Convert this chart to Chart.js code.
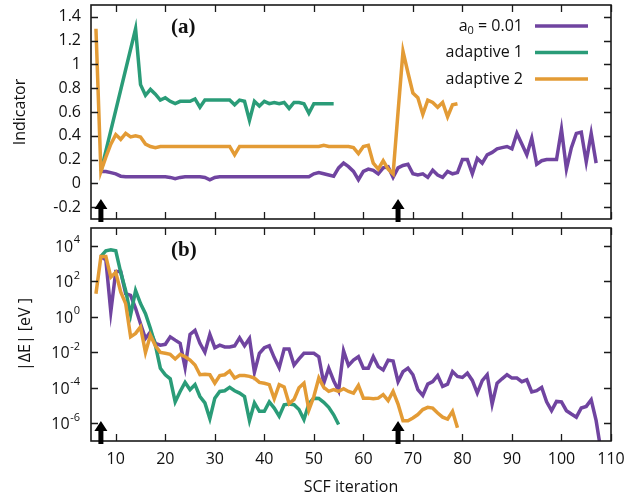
<!DOCTYPE html>
<html>
<head>
<meta charset="utf-8">
<script src="https://cdn.jsdelivr.net/npm/chart.js@4.4.1/dist/chart.umd.min.js"></script>
<style>
  html, body { margin: 0; padding: 0; background: #fff; overflow: hidden; width: 625px; height: 493px; }
  canvas { position: absolute; left: 0; }
  #chartA { top: 0; }
  #chartB { top: 225px; }
</style>
</head>
<body>
<canvas id="chartA" width="625" height="225"></canvas>
<canvas id="chartB" width="625" height="275"></canvas>
<script>
// SCF iterations (shared x categories)
const iterations = [6,7,8,9,10,11,12,13,14,15,16,17,18,19,20,21,22,23,24,25,26,27,28,29,30,
  31,32,33,34,35,36,37,38,39,40,41,42,43,44,45,46,47,48,49,50,51,52,53,54,55,56,57,58,59,60,
  61,62,63,64,65,66,67,68,69,70,71,72,73,74,75,76,77,78,79,80,81,82,83,84,85,86,87,88,89,90,
  91,92,93,94,95,96,97,98,99,100,101,102,103,104,105,106,107,108];

const seriesNames = ["a0 = 0.01", "adaptive 1", "adaptive 2"];
const colors = ["#7044a0", "#2a9c78", "#e39b35"];

// panel (a): indicator
const indA0 = [null, 0.10, 0.10, 0.09, 0.08, 0.06, 0.055, 0.055, 0.055, 0.055, 0.055, 0.055, 0.055, 0.055, 0.055,
  0.05, 0.04, 0.05, 0.055, 0.055, 0.055, 0.055, 0.05, 0.03, 0.05, 0.055, 0.055, 0.055, 0.055, 0.055,
  0.055, 0.055, 0.055, 0.055, 0.055, 0.055, 0.055, 0.055, 0.055, 0.055, 0.055, 0.055, 0.055, 0.055,
  0.08, 0.09, 0.08, 0.07, 0.06, 0.13, 0.17, 0.14, 0.10, 0.03, 0.10, 0.12, 0.11, 0.08, 0.13, 0.14,
  0.05, 0.13, 0.15, 0.16, 0.08, 0.07, 0.08, 0.05, 0.11, 0.07, 0.05, 0.10, 0.08, 0.09, 0.20, 0.20,
  0.08, 0.21, 0.17, 0.24, 0.26, 0.29, 0.30, 0.31, 0.29, 0.42, 0.33, 0.24, 0.38, 0.16, 0.19, 0.20,
  0.20, 0.20, 0.455, 0.12, 0.30, 0.42, 0.43, 0.18, 0.42, 0.17];
const indAdapt1 = [null, 0.10, null, null, null, null, null, null, 1.30,
  0.83, 0.74, 0.79, 0.75, 0.70, 0.72, 0.69, 0.67, 0.69, 0.69,
  0.69, 0.71, 0.64, 0.70, 0.70, 0.70, 0.70, 0.70, 0.70, 0.66,
  0.70, 0.69, 0.53, 0.69, 0.65, 0.69, 0.67, 0.68, 0.67, 0.68,
  0.63, 0.68, 0.68, 0.67, 0.59, 0.67, 0.67, 0.67, 0.67, 0.67];
const indAdapt2 = [1.30, 0.10, 0.22, 0.33, 0.41, 0.37, 0.42, 0.39, 0.40, 0.39, 0.33, 0.31, 0.30,
  0.31, 0.31, 0.31, 0.31, 0.31, 0.31, 0.31, 0.31, 0.31, 0.31, 0.31, 0.31, 0.31, 0.31, 0.31,
  0.24, 0.31, 0.31, 0.31, 0.31, 0.31, 0.31, 0.31, 0.31, 0.31, 0.31, 0.31, 0.31, 0.31, 0.31, 0.31, 0.31, 0.31,
  0.32, 0.31, 0.31, 0.31, 0.31, 0.31, 0.30, 0.25, 0.31, 0.32, 0.17, 0.12, 0.19, 0.12, 0.08,
  0.60, 1.11, 0.93, 0.76, 0.72, 0.58, 0.70, 0.68, 0.64, 0.68, 0.56, 0.66, 0.67];

// panel (b): |dE| in eV
const dEA0 = [null, 2.4e3, 1.6e3, 1.9, 3.5e2, 3.5e2, 20, 16, 3, 0.4, 6.0e-2, 0.14, 3.2e-2, 2.5e-2, 2.8e-2,
  7.4e-2, 4.8e-2, 3.2e-2, 1.4e-3, 0.10, 0.17, 3.2e-2, 1.0e-2, 0.10, 1.8e-2, 2.5e-2, 2.0e-2, 2.0e-2,
  2.3e-2, 6.5e-2, 2.3e-2, 6.0e-2, 7.4e-4, 8.7e-3, 1.8e-2, 2.3e-2, 5.0e-3, 1.35e-3, 1.5e-2, 1.5e-2,
  1.9e-3, 4.2e-3, 8.7e-3, 8.7e-3, 8.7e-3, 5.6e-3, 1.8e-4, 1.26e-3, 2.5e-4, 6.8e-5, 1.2e-2, 1.8e-3,
  3.6e-3, 5.6e-3, 1.26e-3, 1.26e-3, 5.6e-3, 1.55e-3, 1.0e-3, 3.6e-3, 3.2e-3, 2.2e-4, 8.1e-4, 1.26e-3,
  5.4e-4, 7.8e-5, 3.7e-5, 1.6e-4, 2.2e-4, 4.9e-4, 1.2e-4, 1.6e-4, 8.1e-4, 4.3e-4, 3.8e-4, 6.6e-4,
  2.6e-4, 5.0e-5, 2.5e-4, 5.4e-4, 1.2e-5, 1.8e-4, 3.2e-4, 5.4e-4, 3.5e-4, 3.5e-4, 2.2e-4, 2.8e-4,
  5.8e-5, 6.8e-5, 1.05e-4, 1.6e-5, 5.1e-6, 1.7e-5, 1.6e-5, 5.1e-6, 3.3e-6, 2.2e-6, 7.2e-6, 8.9e-6,
  2.1e-5, 1.4e-6, 2.5e-8];
const dEAdapt1 = [null, 2.5e3, 5.2e3, 6.0e3, 5.2e3, 3.2e2, 30, 1.3, 30, 5.5, 1.5, 0.22, 2.5e-2,
  1.26e-3, 5.4e-4, 3.2e-4, 1.6e-5, 6.2e-5, 2.0e-4, 7.8e-5, 1.5e-4, 3.2e-5, 1.4e-5, 1.8e-6, 2.6e-5,
  6.2e-5, 6.8e-5, 1.05e-4, 6.8e-5, 5.0e-5, 3.2e-5, 1.4e-6, 1.4e-5, 4.7e-6, 4.7e-6, 1.6e-5, 7.2e-6,
  2.5e-6, 1.1e-5, 1.2e-5, 1.1e-5, 5.9e-6, 1.6e-6, 1.26e-5, 2.6e-5, 2.5e-5, 1.5e-5, 7.9e-6, 3.0e-6, 8.5e-7];
const dEAdapt2 = [20, 2.5e3, 2.5e3, 1.7e2, 3.2e2, 25, 5.5, 7.4e-2, 0.115, 0.27, 9.8e-3, 9.1e-2, 2.3e-2,
  9.8e-3, 8.7e-3, 7.6e-3, 4.2e-3, 7.6e-3, 5.6e-3, 3.6e-3, 1.9e-3, 5.4e-4, 5.8e-4, 5.4e-4, 1.8e-4,
  4.9e-4, 5.4e-4, 8.9e-4, 3.5e-4, 4.9e-4, 4.9e-4, 4.4e-4, 3.5e-4, 2.0e-4, 1.8e-4, 1.5e-4, 2.4e-5,
  1.5e-4, 1.1e-4, 1.26e-5, 2.2e-5, 1.0e-4, 1.8e-4, 5.6e-6, 3.2e-5, 3.5e-4, 1.05e-4, 6.3e-5, 7.9e-5,
  6.2e-5, 8.7e-5, 6.2e-5, 5.0e-5, 1.35e-4, 2.6e-5, 2.6e-5, 2.4e-5, 2.6e-5, 4.1e-5, 1.9e-5, 6.2e-5,
  1.2e-5, 1.4e-6, 1.4e-6, 2.0e-6, 3.1e-6, 5.9e-6, 7.9e-6, 7.1e-6, 3.8e-6, 2.2e-6, 1.7e-6, 4.7e-6, 5.5e-7];

// axes
const xTicks = [10, 20, 30, 40, 50, 60, 70, 80, 90, 100, 110];
const indTicks = [-0.2, 0, 0.2, 0.4, 0.6, 0.8, 1, 1.2, 1.4];
const dETicks = [1e-6, 1e-4, 1e-2, 1, 1e2, 1e4];
const dETickExp = ["-6", "-4", "-2", "0", "2", "4"];
const arrowIters = [7, 67];

Chart.defaults.font.family = "'Open Sans', sans-serif";
Chart.defaults.font.size = 16;
Chart.defaults.color = "#111";

function makeSets(vals) {
  return vals.map((v, i) => ({
    label: seriesNames[i],
    data: v,
    borderColor: colors[i],
    backgroundColor: colors[i],
    borderWidth: 3.5,
    pointRadius: 0,
    tension: 0,
    spanGaps: true,
    order: 3 - i
  }));
}

// keep the plot box where the reference has it
function fixWidth(s) {
  s.width = 91;
  s.paddingTop = 0; s.paddingBottom = 0;
}
function fixHeight(s) {
  s.height = 59;
  s.paddingLeft = 0; s.paddingRight = 0;
}

// frame, inward ticks, arrows, panel label, legend
const decor = {
  id: "decor",
  afterDatasetsDraw(chart, args, opts) {
    const { ctx, chartArea: a, scales: { x, y } } = chart;
    ctx.save();
    ctx.strokeStyle = "#1a1a1a";
    ctx.lineWidth = 1.3;
    ctx.beginPath();
    xTicks.forEach(v => {
      const px = Math.round(x.getPixelForValue(v)) + 0.5;
      ctx.moveTo(px, a.top); ctx.lineTo(px, a.top + 7);
      ctx.moveTo(px, a.bottom); ctx.lineTo(px, a.bottom - 7);
    });
    opts.yTicks.forEach(v => {
      const py = Math.round(y.getPixelForValue(v)) + 0.5;
      ctx.moveTo(a.left, py); ctx.lineTo(a.left + 7, py);
      ctx.moveTo(a.right, py); ctx.lineTo(a.right - 7, py);
    });
    ctx.stroke();
    ctx.lineWidth = 1.6;
    ctx.strokeRect(a.left, a.top, a.right - a.left, a.bottom - a.top);

    ctx.fillStyle = "#000";
    arrowIters.forEach(v => {
      const px = x.getPixelForValue(v);
      const b = a.bottom;
      ctx.beginPath();
      ctx.moveTo(px, b - 20);
      ctx.lineTo(px + 6.5, b - 10);
      ctx.lineTo(px + 2.5, b - 10);
      ctx.lineTo(px + 2.5, b + 3);
      ctx.lineTo(px - 2.5, b + 3);
      ctx.lineTo(px - 2.5, b - 10);
      ctx.lineTo(px - 6.5, b - 10);
      ctx.closePath();
      ctx.fill();
    });

    ctx.font = "bold 21px 'Liberation Serif', serif";
    ctx.textAlign = "left";
    ctx.textBaseline = "middle";
    ctx.fillStyle = "#111";
    ctx.fillText(opts.panel, a.left + 80, a.top + 23);

    if (opts.legend) {
      const rx = 523;
      chart.data.datasets.forEach((ds, i) => {
        const ly = a.top + 21 + i * 26.5;
        ctx.fillStyle = "#111";
        ctx.textAlign = "right";
        ctx.font = "16px 'Open Sans', sans-serif";
        if (i === 0) {
          const rest = " = 0.01";
          ctx.fillText(rest, rx, ly);
          const w = ctx.measureText(rest).width;
          ctx.font = "11px 'Open Sans', sans-serif";
          ctx.fillText("0", rx - w, ly + 5);
          const w2 = ctx.measureText("0").width;
          ctx.font = "16px 'Open Sans', sans-serif";
          ctx.fillText("a", rx - w - w2, ly);
        } else {
          ctx.fillText(ds.label, rx, ly);
        }
        ctx.strokeStyle = ds.borderColor;
        ctx.lineWidth = 3.5;
        ctx.beginPath();
        ctx.moveTo(535, ly);
        ctx.lineTo(588, ly);
        ctx.stroke();
      });
    }

    if (opts.logLabels) {
      ctx.fillStyle = "#111";
      ctx.textAlign = "right";
      ctx.textBaseline = "middle";
      dETicks.forEach((v, i) => {
        const py = y.getPixelForValue(v);
        ctx.font = "11px 'Open Sans', sans-serif";
        ctx.fillText(dETickExp[i], 80, py - 5.5);
        const w = ctx.measureText(dETickExp[i]).width;
        ctx.font = "16px 'Open Sans', sans-serif";
        ctx.fillText("10", 80 - w - 0.5, py + 1.5);
      });
    }
    ctx.restore();
  }
};

new Chart(document.getElementById("chartA"), {
  type: "line",
  data: { labels: iterations, datasets: makeSets([indA0, indAdapt1, indAdapt2]) },
  options: {
    responsive: false,
    animation: false,
    devicePixelRatio: 1,
    layout: { padding: { top: 5, right: 14, bottom: 6, left: 0 } },
    plugins: {
      legend: { display: false },
      tooltip: { enabled: false },
      decor: { yTicks: indTicks, panel: "(a)", legend: true }
    },
    scales: {
      x: { type: "linear", min: 5, max: 110, display: false },
      y: {
        min: -0.3, max: 1.5,
        grid: { display: false, drawTicks: false },
        border: { display: false },
        afterBuildTicks: s => { s.ticks = indTicks.map(v => ({ value: v })); },
        afterFit: fixWidth,
        ticks: { padding: 10, callback: v => String(v) },
        title: { display: true, text: "Indicator", padding: { top: 11, bottom: 0 } }
      }
    }
  },
  plugins: [decor]
});

new Chart(document.getElementById("chartB"), {
  type: "line",
  data: { labels: iterations, datasets: makeSets([dEA0, dEAdapt1, dEAdapt2]) },
  options: {
    responsive: false,
    animation: false,
    devicePixelRatio: 1,
    layout: { padding: { top: 3, right: 14, bottom: 0, left: 0 } },
    plugins: {
      legend: { display: false },
      tooltip: { enabled: false },
      decor: { yTicks: dETicks, panel: "(b)", legend: false, logLabels: true }
    },
    scales: {
      x: {
        type: "linear", min: 5, max: 110,
        grid: { display: false, drawTicks: false },
        border: { display: false },
        afterBuildTicks: s => { s.ticks = xTicks.map(v => ({ value: v })); },
        afterFit: fixHeight,
        ticks: { padding: 9, maxRotation: 0 },
        title: { display: true, text: "SCF iteration", padding: { top: 0, bottom: 3 } }
      },
      y: {
        type: "logarithmic", min: 1e-7, max: 1e5,
        grid: { display: false, drawTicks: false },
        border: { display: false },
        afterBuildTicks: s => { s.ticks = dETicks.map(v => ({ value: v })); },
        afterFit: fixWidth,
        ticks: { display: false },
        title: { display: true, text: "|ΔE| [eV ]", padding: { top: 16, bottom: 0 } }
      }
    }
  },
  plugins: [decor]
});
</script>
</body>
</html>
